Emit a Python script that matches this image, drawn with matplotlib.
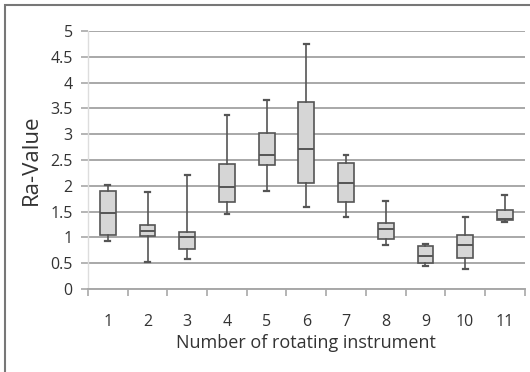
import numpy as np
import matplotlib.pyplot as plt
from matplotlib.patches import Rectangle

# Valores (Ra por instrumento)
instrumentos = ["1", "2", "3", "4", "5", "6", "7", "8", "9", "10", "11"]
whisker_lo = [0.93, 0.53, 0.58, 1.45, 1.90, 1.58, 1.40, 0.85, 0.44, 0.39, 1.30]
q1 = [1.05, 1.02, 0.77, 1.68, 2.40, 2.05, 1.68, 0.96, 0.51, 0.61, 1.33]
mediana = [1.47, 1.12, 1.00, 1.97, 2.60, 2.71, 2.05, 1.16, 0.64, 0.86, 1.36]
q3 = [1.90, 1.25, 1.10, 2.42, 3.03, 3.63, 2.45, 1.27, 0.83, 1.05, 1.53]
whisker_hi = [2.01, 1.87, 2.20, 3.38, 3.67, 4.75, 2.59, 1.70, 0.88, 1.39, 1.83]
yticks = [0, 0.5, 1, 1.5, 2, 2.5, 3, 3.5, 4, 4.5, 5]

C_BOX = "#d6d6d6"
C_EDGE = "#555555"
C_GRID = "#a8a8a8"
C_TXT = "#333333"

plt.rcParams['font.family'] = ['Open Sans', 'DejaVu Sans']

fig = plt.figure(figsize=(5.3, 3.72), dpi=100)
ax = fig.add_axes([0.166, 0.223, 0.824, 0.694])

stats = []
for i in range(len(instrumentos)):
    stats.append({
        'whislo': whisker_lo[i], 'q1': q1[i], 'med': mediana[i],
        'q3': q3[i], 'whishi': whisker_hi[i], 'fliers': [],
    })

pos = np.arange(1, len(instrumentos) + 1)
ax.bxp(stats, positions=pos, widths=0.4, capwidths=0.12, patch_artist=True,
       showfliers=False,
       boxprops=dict(facecolor=C_BOX, edgecolor=C_EDGE, linewidth=1.2),
       medianprops=dict(color=C_EDGE, linewidth=1.4),
       whiskerprops=dict(color=C_EDGE, linewidth=1.2),
       capprops=dict(color=C_EDGE, linewidth=1.6),
       zorder=3)

ax.set_xlim(0.5, len(instrumentos) + 0.5)
ax.set_ylim(0, 5)
ax.set_yticks(yticks)
ax.set_yticklabels([f"{t:g}" for t in yticks], fontsize=11.5, color=C_TXT)
ax.yaxis.grid(True, color=C_GRID, linewidth=1.4, zorder=0)
ax.set_axisbelow(True)
ax.tick_params(axis='y', length=5, width=1.2, color=C_GRID, pad=6)

ax.set_xticks(pos)
ax.set_xticklabels(instrumentos, fontsize=11.5, color=C_TXT)
ax.tick_params(axis='x', which='major', length=0, pad=18)
ax.set_xticks(np.arange(0.5, len(instrumentos) + 1, 1), minor=True)
ax.tick_params(axis='x', which='minor', length=5, width=1.2, color=C_GRID)

for s in ['top', 'right']:
    ax.spines[s].set_visible(False)
ax.spines['bottom'].set_color(C_GRID)
ax.spines['bottom'].set_linewidth(1.4)
ax.spines['left'].set_color("#dddddd")
ax.spines['left'].set_linewidth(1.0)

ax.set_ylabel("Ra-Value", fontsize=16, color=C_TXT, labelpad=6)
ax.set_xlabel("Number of rotating instrument", fontsize=13, color=C_TXT, labelpad=3)

# marco de la figura
fig.patches.append(Rectangle((5 / 530, -0.1), 1.2, 1 - 5 / 372 + 0.1,
                             transform=fig.transFigure, fill=False,
                             edgecolor="#777777", linewidth=1.5))

fig.savefig("out.png", dpi=100)
